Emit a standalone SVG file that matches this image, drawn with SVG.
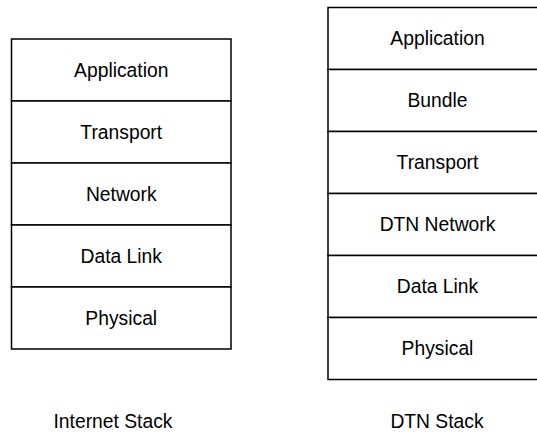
<svg xmlns="http://www.w3.org/2000/svg" width="537" height="432" viewBox="0 0 537 432">
<style>
.box{fill:#fff;stroke:#000;stroke-width:1.5}
.t{font-family:"Liberation Sans",Arial,Helvetica,sans-serif;font-size:19.3px;fill:#000;text-anchor:middle}
</style>
<rect width="537" height="432" fill="#fff"/>
<g id="internet-stack">
<g id="i-app"><rect class="box" x="11.5" y="39" width="219.5" height="62"/><text class="t" x="121.25" y="76.5">Application</text></g>
<g id="i-transport"><rect class="box" x="11.5" y="101" width="219.5" height="62"/><text class="t" x="121.25" y="138.5">Transport</text></g>
<g id="i-network"><rect class="box" x="11.5" y="163" width="219.5" height="62"/><text class="t" x="121.25" y="200.5">Network</text></g>
<g id="i-datalink"><rect class="box" x="11.5" y="225" width="219.5" height="62"/><text class="t" x="121.25" y="262.5">Data Link</text></g>
<g id="i-physical"><rect class="box" x="11.5" y="287" width="219.5" height="62"/><text class="t" x="121.25" y="324.5">Physical</text></g>
<text id="i-label" class="t" x="113" y="428">Internet Stack</text>
</g>
<g id="dtn-stack">
<g id="d-app"><rect class="box" x="328" y="7.5" width="219" height="62"/><text class="t" x="437.5" y="45">Application</text></g>
<g id="d-bundle"><rect class="box" x="328" y="69.5" width="219" height="62"/><text class="t" x="437.5" y="107">Bundle</text></g>
<g id="d-transport"><rect class="box" x="328" y="131.5" width="219" height="62"/><text class="t" x="437.5" y="169">Transport</text></g>
<g id="d-network"><rect class="box" x="328" y="193.5" width="219" height="62"/><text class="t" x="437.5" y="231">DTN Network</text></g>
<g id="d-datalink"><rect class="box" x="328" y="255.5" width="219" height="62"/><text class="t" x="437.5" y="293">Data Link</text></g>
<g id="d-physical"><rect class="box" x="328" y="317.5" width="219" height="62"/><text class="t" x="437.5" y="355">Physical</text></g>
<text id="d-label" class="t" x="437" y="428">DTN Stack</text>
</g>
<g id="connectors"/>
</svg>
